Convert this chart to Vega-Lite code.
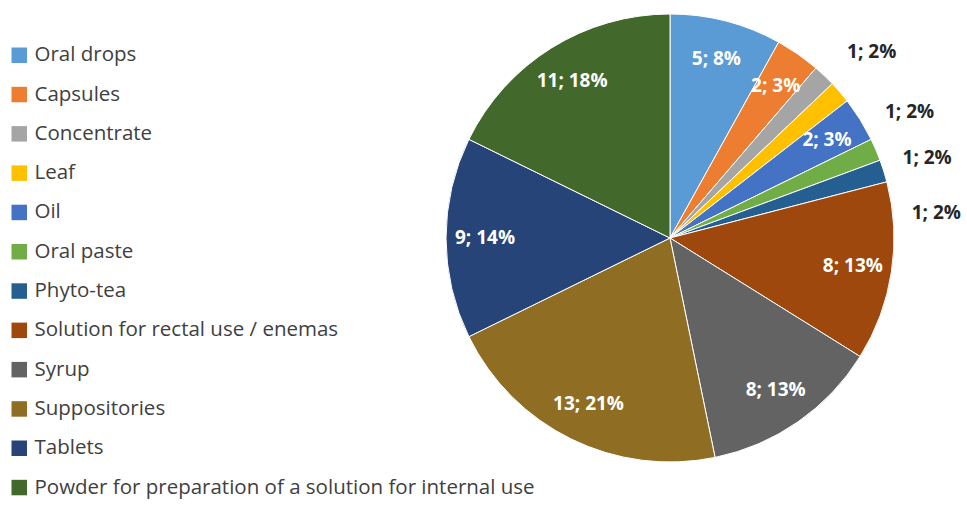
{
  "$schema": "https://vega.github.io/schema/vega-lite/v6.json",
  "width": 460,
  "height": 476,
  "autosize": {"type": "none"},
  "padding": {"left": 440, "top": 0, "right": 67, "bottom": 29},
  "background": "white",
  "data": {
    "values": [
      {"idx": 1, "form": "Oral drops", "count": 5, "label": "5; 8%"},
      {"idx": 2, "form": "Capsules", "count": 2, "label": "2; 3%"},
      {"idx": 3, "form": "Concentrate", "count": 1, "label": "1; 2%"},
      {"idx": 4, "form": "Leaf", "count": 1, "label": "1; 2%"},
      {"idx": 5, "form": "Oil", "count": 2, "label": "2; 3%"},
      {"idx": 6, "form": "Oral paste", "count": 1, "label": "1; 2%"},
      {"idx": 7, "form": "Phyto-tea", "count": 1, "label": "1; 2%"},
      {"idx": 8, "form": "Solution for rectal use / enemas", "count": 8, "label": "8; 13%"},
      {"idx": 9, "form": "Syrup", "count": 8, "label": "8; 13%"},
      {"idx": 10, "form": "Suppositories", "count": 13, "label": "13; 21%"},
      {"idx": 11, "form": "Tablets", "count": 9, "label": "9; 14%"},
      {"idx": 12, "form": "Powder for preparation of a solution for internal use", "count": 11, "label": "11; 18%"}
    ]
  },
  "encoding": {
    "theta": {"field": "count", "type": "quantitative", "stack": true},
    "order": {"field": "idx", "type": "quantitative"}
  },
  "layer": [
    {
      "mark": {"type": "arc", "outerRadius": 224, "stroke": "#ffffff", "strokeWidth": 1},
      "encoding": {
        "color": {
          "field": "form",
          "type": "nominal",
          "scale": {
            "domain": ["Oral drops", "Capsules", "Concentrate", "Leaf", "Oil", "Oral paste", "Phyto-tea", "Solution for rectal use / enemas", "Syrup", "Suppositories", "Tablets", "Powder for preparation of a solution for internal use"],
            "range": ["#5B9BD5", "#ED7D31", "#A5A5A5", "#FFC000", "#4472C4", "#70AD47", "#255E91", "#9E480E", "#636363", "#8F6E24", "#264478", "#43682B"]
          },
          "legend": {
            "title": null,
            "orient": "none",
            "legendX": -431,
            "legendY": 45,
            "symbolType": "square",
            "symbolSize": 240,
            "symbolStrokeWidth": 0,
            "labelFont": "Open Sans",
            "labelFontSize": 20.5,
            "labelColor": "#404040",
            "labelOffset": 5,
            "labelLimit": 600,
            "rowPadding": 18.3
          }
        }
      }
    },
    {
      "mark": {"type": "text", "radius": 185, "font": "Open Sans", "fontSize": 19, "fontWeight": "bold", "fill": "#ffffff"},
      "encoding": {
        "detail": {"field": "form", "type": "nominal"},
        "text": {"condition": {"test": "datum.count > 1", "field": "label"}, "value": ""}
      }
    },
    {
      "mark": {"type": "text", "radius": 257, "align": "left", "baseline": "middle", "font": "Open Sans", "fontSize": 19, "fontWeight": "bold", "fill": "#262626"},
      "encoding": {
        "detail": {"field": "form", "type": "nominal"},
        "text": {"condition": {"test": "datum.form == 'Concentrate'", "field": "label"}, "value": ""}
      }
    },
    {
      "mark": {"type": "text", "radius": 249, "thetaOffset": 0.18, "align": "left", "baseline": "middle", "font": "Open Sans", "fontSize": 19, "fontWeight": "bold", "fill": "#262626"},
      "encoding": {
        "detail": {"field": "form", "type": "nominal"},
        "text": {"condition": {"test": "datum.form == 'Leaf'", "field": "label"}, "value": ""}
      }
    },
    {
      "mark": {"type": "text", "radius": 246, "thetaOffset": 0.073, "align": "left", "baseline": "middle", "font": "Open Sans", "fontSize": 19, "fontWeight": "bold", "fill": "#262626"},
      "encoding": {
        "detail": {"field": "form", "type": "nominal"},
        "text": {"condition": {"test": "datum.form == 'Oral paste'", "field": "label"}, "value": ""}
      }
    },
    {
      "mark": {"type": "text", "radius": 243, "thetaOffset": 0.2, "align": "left", "baseline": "middle", "font": "Open Sans", "fontSize": 19, "fontWeight": "bold", "fill": "#262626"},
      "encoding": {
        "detail": {"field": "form", "type": "nominal"},
        "text": {"condition": {"test": "datum.form == 'Phyto-tea'", "field": "label"}, "value": ""}
      }
    }
  ]
}
